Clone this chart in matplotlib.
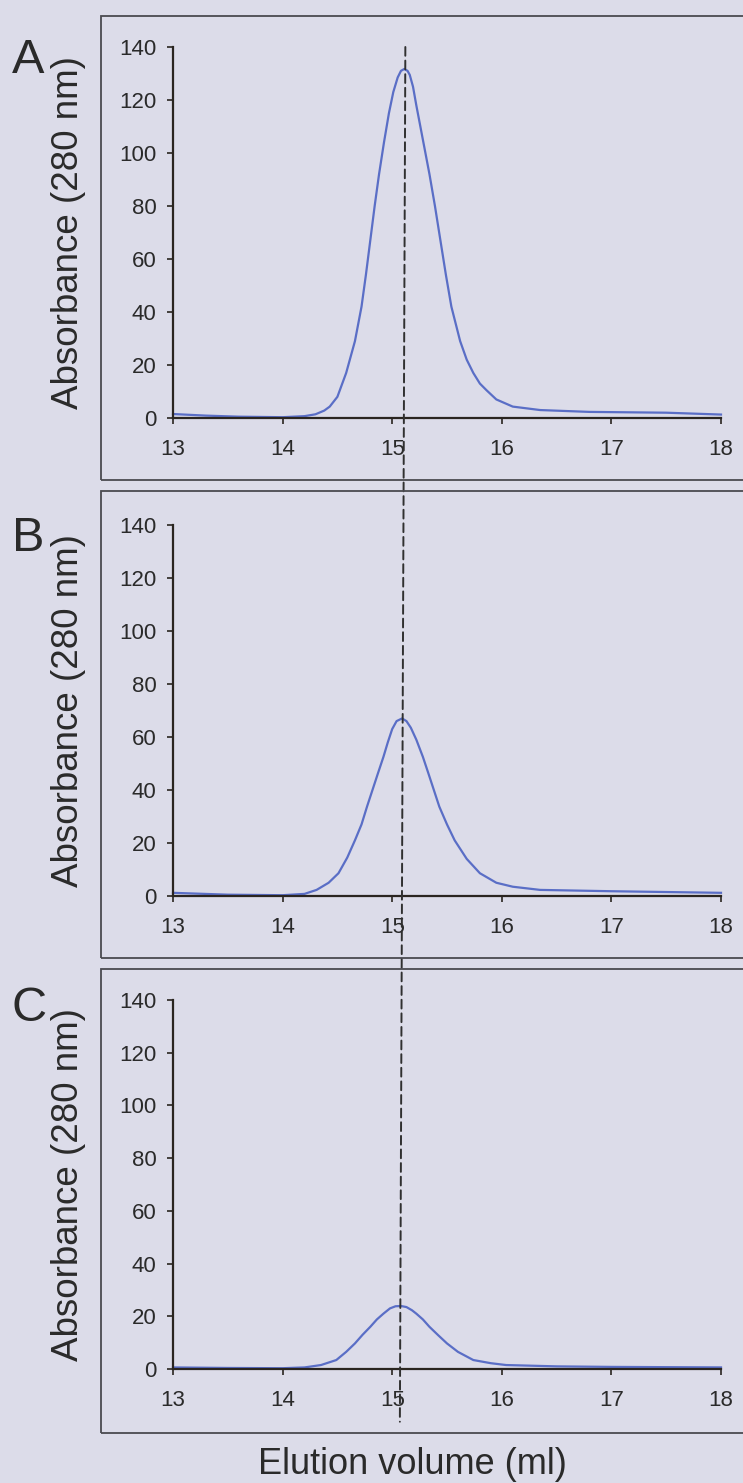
import matplotlib
matplotlib.use("Agg")
import matplotlib.pyplot as plt
from matplotlib.patches import Rectangle, ConnectionPatch

plt.rcParams['font.family'] = ['Liberation Sans', 'DejaVu Sans']

# elution profiles (ml, absorbance at 280 nm)
vol_a = [13.0, 13.3, 13.6, 14.0, 14.2, 14.3, 14.38, 14.43, 14.5, 14.58, 14.66, 14.72,
         14.76, 14.80, 14.84, 14.88, 14.925, 14.97, 15.01, 15.05, 15.08, 15.11, 15.14,
         15.16, 15.19, 15.22, 15.28, 15.34, 15.39, 15.44, 15.49, 15.54, 15.62, 15.68,
         15.74, 15.80, 15.86, 15.95, 16.1, 16.35, 16.8, 17.5, 18.0]
abs_a = [1.5, 0.9, 0.5, 0.3, 0.7, 1.4, 2.8, 4.3, 8, 17, 29, 42,
         54, 67, 80, 92, 104, 115, 123, 128.5, 131, 131.7, 131,
         129.5, 125, 118, 105, 92, 80, 67, 54, 42, 29, 22,
         17, 13, 10.5, 7, 4.3, 3.0, 2.3, 2.0, 1.3]

vol_b = [13.0, 13.5, 14.0, 14.2, 14.31, 14.42, 14.51, 14.59, 14.66, 14.72, 14.77, 14.82,
         14.87, 14.92, 14.96, 15.00, 15.04, 15.09, 15.13, 15.17, 15.22, 15.28, 15.33,
         15.38, 15.43, 15.50, 15.57, 15.68, 15.80, 15.95, 16.1, 16.35, 17.0, 18.0]
abs_b = [1.2, 0.5, 0.3, 0.8, 2.3, 5, 8.6, 14.5, 21, 27, 33.7, 40,
         46.3, 52.5, 58, 63, 66, 67, 66, 63.5, 59, 52.5, 46.3,
         40, 33.7, 27, 21, 14, 8.6, 5, 3.5, 2.3, 1.8, 1.2]

vol_c = [13.0, 13.5, 14.0, 14.2, 14.35, 14.49, 14.58, 14.66, 14.73, 14.80, 14.86, 14.92,
         14.98, 15.03, 15.08, 15.13, 15.18, 15.22, 15.28, 15.34, 15.42, 15.50, 15.6,
         15.74, 15.9, 16.04, 16.5, 17.0, 18.0]
abs_c = [0.6, 0.4, 0.3, 0.6, 1.5, 3.4, 6.5, 9.7, 13, 16, 18.8, 21,
         23, 23.8, 23.9, 23.5, 22.3, 21, 18.8, 16, 12.8, 9.7, 6.5,
         3.4, 2.2, 1.5, 1.0, 0.8, 0.6]

panel_labels = ['A', 'B', 'C']
x_ticks = [13, 14, 15, 16, 17, 18]
y_ticks = [0, 20, 40, 60, 80, 100, 120, 140]
# dashed peak marker: top point in panel A, bottom point in panel C
peak_top = (15.12, 140)
peak_bottom = (15.07, -20)

W, H = 743, 1483
bg = '#dcdce9'
fig = plt.figure(figsize=(W / 100, H / 100), dpi=100, facecolor=bg)

# pixel layout (axis-bottom, axis-top) for each panel, plus panel frames
ax_left, ax_right = 173, 721
panel_axes = [(418, 47), (896, 525), (1369, 1000)]
panel_boxes = [(16, 480), (491, 958), (969, 1433)]
letter_y = [38, 516, 986]

series = [(vol_a, abs_a), (vol_b, abs_b), (vol_c, abs_c)]
axes = []
for i, ((y0, y1), (bt, bb)) in enumerate(zip(panel_axes, panel_boxes)):
    fig.patches.append(Rectangle((101 / W, 1 - bb / H), (W + 10 - 101) / W, (bb - bt) / H,
                                 transform=fig.transFigure, fill=False,
                                 edgecolor='#4a4a50', linewidth=1.3))
    ax = fig.add_axes([ax_left / W, 1 - y0 / H, (ax_right - ax_left) / W, (y0 - y1) / H])
    ax.set_facecolor('none')
    x, y = series[i]
    ax.plot(x, y, color='#5a6ec6', linewidth=1.6, clip_on=False,
            solid_joinstyle='round')
    ax.set_xlim(13, 18)
    ax.set_ylim(0, 140)
    ax.set_xticks(x_ticks)
    ax.set_yticks(y_ticks)
    for s in ['top', 'right']:
        ax.spines[s].set_visible(False)
    for s in ['left', 'bottom']:
        ax.spines[s].set_color('#2a2520')
        ax.spines[s].set_linewidth(1.6)
    ax.tick_params(axis='both', direction='out', length=4, width=1.2,
                   colors='#2a2520', labelsize=16, labelcolor='#2a2a2a')
    ax.tick_params(axis='y', pad=8)
    ax.tick_params(axis='x', pad=11)
    ax.set_ylabel('Absorbance (280 nm)', fontsize=26.5, color='#2a2a2a')
    ax.yaxis.set_label_coords(-(ax_left - 86) / (ax_right - ax_left), 0.5)
    fig.text(12 / W, 1 - letter_y[i] / H, panel_labels[i], fontsize=35,
             color='#2a2a2a', va='top', ha='left')
    axes.append(ax)

con = ConnectionPatch(xyA=peak_top, coordsA=axes[0].transData,
                      xyB=peak_bottom, coordsB=axes[2].transData,
                      linestyle=(0, (4.5, 2.5)), color='#303030', linewidth=1.4)
fig.add_artist(con)

fig.text(412 / W, 1 - 1465 / H, 'Elution volume (ml)', fontsize=26,
         color='#2a2a2a', ha='center', va='center')

fig.savefig('out.png', dpi=100, facecolor=bg)
